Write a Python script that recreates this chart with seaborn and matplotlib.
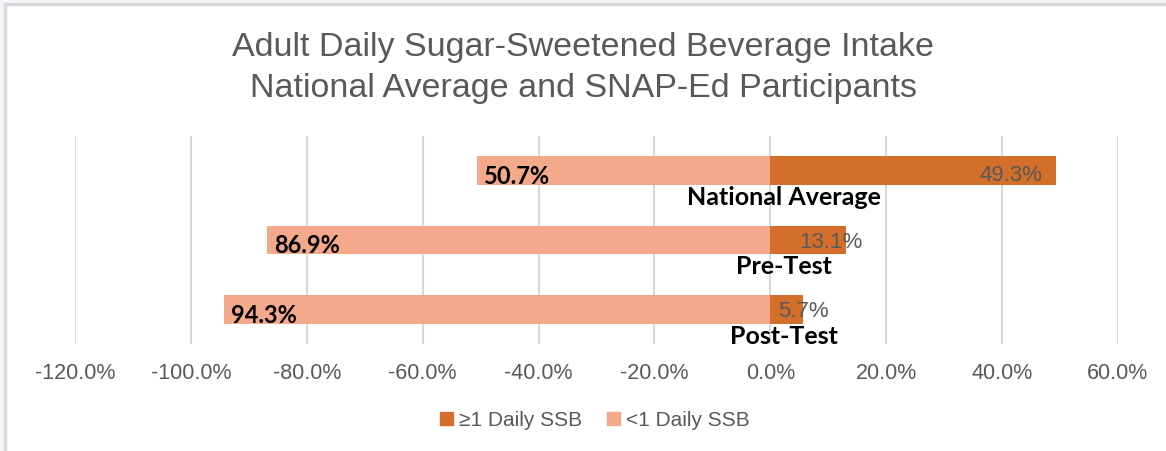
import pandas as pd
import seaborn as sns
import matplotlib.pyplot as plt
from matplotlib.patches import Rectangle
from matplotlib.ticker import FuncFormatter

# chart values
groups = ['National Average', 'Pre-Test', 'Post-Test']
under_one = [50.7, 86.9, 94.3]   # <1 Daily SSB (drawn to the left)
one_plus = [49.3, 13.1, 5.7]     # >=1 Daily SSB (drawn to the right)
series_names = ['\u22651 Daily SSB', '<1 Daily SSB']
x_ticks = [-120, -100, -80, -60, -40, -20, 0, 20, 40, 60]

dark = '#D46E2B'
light = '#F4A98B'
grey_txt = '#595959'

df = pd.DataFrame({
    'group': groups * 2,
    'value': one_plus + [-v for v in under_one],
    'series': [series_names[0]] * 3 + [series_names[1]] * 3,
})

sns.set_style('white')
plt.rcParams['font.family'] = ['Liberation Sans', 'DejaVu Sans']

fig = plt.figure(figsize=(11.66, 4.52), dpi=100)
fig.patch.set_facecolor('#F3F5FA')
# white chart area with a light border (only top/left edges visible)
fig.patches.append(Rectangle((5 / 1166, -0.1), 1.2, 1.1 - 5 / 452,
                             transform=fig.transFigure, facecolor='white',
                             edgecolor='#D9D9D9', linewidth=2.5, zorder=-5))

ax = fig.add_axes([75 / 1166, 1 - 345 / 452, (1118 - 75) / 1166, (345 - 137) / 452])
ax.set_facecolor('none')

sns.barplot(data=df, y='group', x='value', hue='series', dodge=False,
            palette={series_names[0]: dark, series_names[1]: light},
            saturation=1, linewidth=0, width=0.41, orient='h', ax=ax,
            legend=False, zorder=3)

ax.set_xlim(-120, 60)
ax.set_ylim(2.5, -0.5)
ax.set_xticks(x_ticks)
ax.xaxis.set_major_formatter(FuncFormatter(lambda v, p: f'{v:.1f}%'))
ax.tick_params(axis='x', length=0, pad=13, labelsize=15.5, labelcolor=grey_txt)
ax.set_yticks([])
ax.set_xlabel('')
ax.set_ylabel('')
for s in ax.spines.values():
    s.set_visible(False)
ax.grid(axis='x', color='#D9D9D9', linewidth=1.5, zorder=0)
ax.set_axisbelow(True)

bold_font = ['Lato', 'DejaVu Sans']
# data labels
for i, (u, o) in enumerate(zip(under_one, one_plus)):
    ax.text(-u + 1.2, i + 0.07, f'{u:.1f}%', ha='left', va='center',
            fontsize=17, fontweight='bold', color='black',
            family=bold_font, zorder=5)
    if o > 30:
        ax.text(o - 2.4, i + 0.05, f'{o:.1f}%', ha='right', va='center',
                fontsize=16, color=grey_txt, zorder=5)
    else:
        ax.text(5.0 if o > 10 else 1.4, i + 0.02, f'{o:.1f}%', ha='left', va='center',
                fontsize=16, color=grey_txt, zorder=5)
    # category labels sit just below each pair of bars
    ax.text(2.3, i + 0.48, groups[i], ha='center', va='baseline',
            fontsize=18, fontweight='bold', color='black',
            family=bold_font, zorder=5, clip_on=False)

fig.text(0.5, 1 - 48 / 452, 'Adult Daily Sugar-Sweetened Beverage Intake',
         ha='center', va='center', fontsize=24.5, color=grey_txt)
fig.text(0.5, 1 - 88 / 452, 'National Average and SNAP-Ed Participants',
         ha='center', va='center', fontsize=24.5, color=grey_txt)

# legend at the bottom
handles = [Rectangle((0, 0), 1, 1, color=dark), Rectangle((0, 0), 1, 1, color=light)]
fig.legend(handles, series_names, loc='center', bbox_to_anchor=(595 / 1166, 1 - 421 / 452),
           ncol=2, frameon=False, fontsize=15, labelcolor=grey_txt,
           handlelength=0.6, handleheight=0.6, handletextpad=0.3, columnspacing=1.2)

fig.savefig('out.png', dpi=100, facecolor=fig.get_facecolor())
